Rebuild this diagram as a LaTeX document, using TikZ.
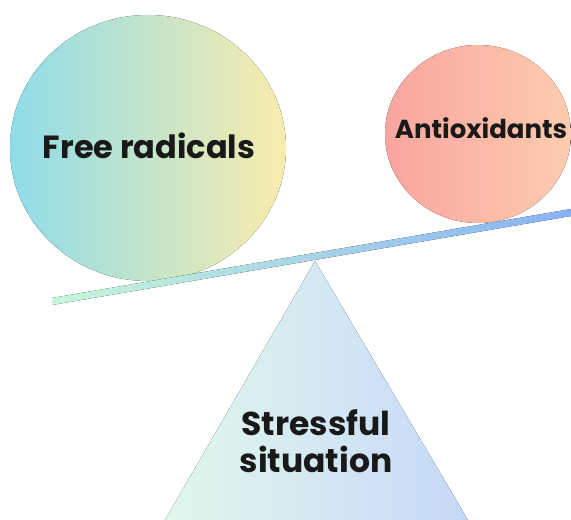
\documentclass[tikz,border=0pt]{standalone}
\usepackage{fontspec}
\setmainfont{Poppins}
\usepackage{xcolor}
\definecolor{radicalL}{HTML}{8FDCE9}
\definecolor{radicalR}{HTML}{F8ECAC}
\definecolor{antioxL}{HTML}{F9A59E}
\definecolor{antioxR}{HTML}{FDCCAF}
\definecolor{beamL}{HTML}{C6F6DA}
\definecolor{beamR}{HTML}{88B2F4}
\definecolor{stressL}{HTML}{E0F8EC}
\definecolor{stressR}{HTML}{C6D8F8}
\tikzset{word/.style={font=\bfseries,text=black!90,align=center}}

\begin{document}
\begin{tikzpicture}[x=1pt,y=-1pt]
\useasboundingbox (0,0) rectangle (571,520);
\fill[left color=radicalL,right color=radicalR] (148,148) ellipse (138 and 133);
\fill[left color=antioxL,right color=antioxR] (478,134) ellipse (93 and 89);
\fill[left color=stressL,right color=stressR] (315,261) -- (468,520) -- (165,520) -- cycle;
\fill[left color=beamL,right color=beamR] (52,298) -- (571,209) -- (571,216) -- (52,305) -- cycle;
\node[word,anchor=base,font=\bfseries\fontsize{32}{38}\selectfont] (radicals) at (149,158) {Free radicals};
\node[word,anchor=base,font=\bfseries\fontsize{26}{32}\selectfont] (antiox) at (481,138) {Antioxidants};
\node[word,font=\bfseries\fontsize{33}{37}\selectfont] (stress) at (316,441) {Stressful\\situation};
\end{tikzpicture}
\end{document}
